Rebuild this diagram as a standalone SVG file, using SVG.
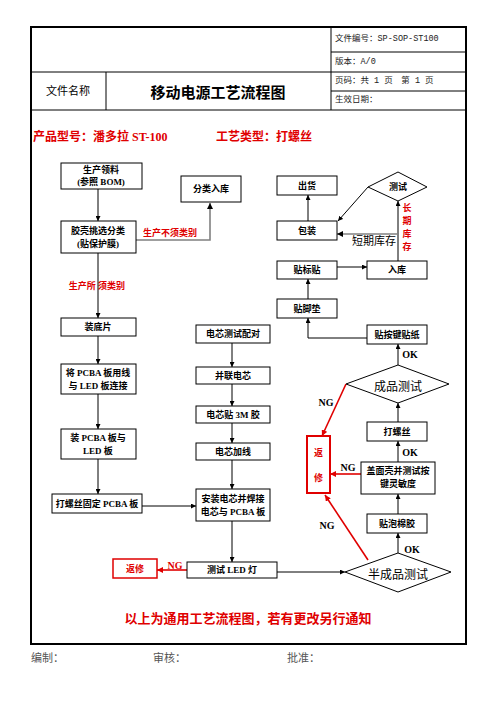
<svg xmlns="http://www.w3.org/2000/svg" width="496" height="702" viewBox="0 0 496 702">
<style>
.b{fill:#fff;stroke:#000;stroke-width:1}
.t{font-family:"Liberation Serif","Noto Sans CJK SC",serif;font-weight:bold;font-size:9px;fill:#000;text-anchor:middle;dominant-baseline:central}
.h{font-family:"Liberation Mono","Noto Sans CJK SC",monospace;font-size:8.5px;fill:#222;dominant-baseline:central}
.r{fill:#e00000}
.ln{fill:none;stroke:#000;stroke-width:1}
.gl{fill:none;stroke:#808080;stroke-width:1.6}
.rl{fill:none;stroke:#e00000;stroke-width:1.6}
.ng{font-family:"Liberation Serif","Noto Sans CJK SC",serif;font-weight:bold;font-size:10px;text-anchor:middle;dominant-baseline:central}
</style>
<defs>
<marker id="a" viewBox="0 0 10 10" refX="10" refY="5" markerWidth="5" markerHeight="5" markerUnits="userSpaceOnUse" orient="auto"><path d="M0,0L10,5L0,10z" fill="#000"/></marker>
<marker id="ar" viewBox="0 0 10 10" refX="10" refY="5" markerWidth="6" markerHeight="6" markerUnits="userSpaceOnUse" orient="auto"><path d="M0,0L10,5L0,10z" fill="#e00000"/></marker>
<marker id="ag" viewBox="0 0 10 10" refX="10" refY="5" markerWidth="6" markerHeight="6" markerUnits="userSpaceOnUse" orient="auto"><path d="M0,0L10,5L0,10z" fill="#000"/></marker>
</defs>
<rect width="496" height="702" fill="#fff"/>
<g id="frame">
<rect x="31" y="27" width="435" height="617" fill="none" stroke="#000" stroke-width="2"/>
<line x1="331" y1="52" x2="466" y2="52" stroke="#000"/>
<line x1="31" y1="72" x2="466" y2="72" stroke="#000"/>
<line x1="331" y1="91" x2="466" y2="91" stroke="#000"/>
<line x1="31" y1="110" x2="466" y2="110" stroke="#000"/>
<line x1="106" y1="72" x2="106" y2="110" stroke="#000"/>
<line x1="331" y1="27" x2="331" y2="110" stroke="#000"/>
<text class="h" x="335" y="39">文件编号：SP-SOP-ST100</text>
<text class="h" x="335" y="62">版本：A/0</text>
<text class="h" x="335" y="81">页码：共 1 页　第 1 页</text>
<text class="h" x="335" y="100">生效日期：</text>
<text x="68" y="91" font-family="Liberation Serif,Noto Sans CJK SC,serif" font-size="11" text-anchor="middle" dominant-baseline="central">文件名称</text>
<text x="218" y="91" font-family="Noto Sans CJK SC,sans-serif" font-weight="bold" font-size="15" text-anchor="middle" dominant-baseline="central">移动电源工艺流程图</text>
<text x="33" y="137" class="r" font-family="Liberation Serif,Noto Sans CJK SC,serif" font-weight="bold" font-size="12" dominant-baseline="central">产品型号：潘多拉 ST-100</text>
<text x="216" y="137" class="r" font-family="Liberation Serif,Noto Sans CJK SC,serif" font-weight="bold" font-size="12" dominant-baseline="central">工艺类型：打螺丝</text>
<text x="248" y="618" class="r" font-family="Liberation Serif,Noto Sans CJK SC,serif" font-weight="bold" font-size="13" text-anchor="middle" dominant-baseline="central">以上为通用工艺流程图，若有更改另行通知</text>
<g font-family="Liberation Serif,Noto Sans CJK SC,serif" font-size="11" fill="#555" dominant-baseline="central">
<text x="31" y="658">编制：</text>
<text x="153" y="658">审核：</text>
<text x="287" y="658">批准：</text>
</g>
</g>
<g id="connectors">
<path class="ln" d="M98,189V221" marker-end="url(#a)"/>
<path class="ln" d="M98,253V318" marker-end="url(#a)"/>
<path class="ln" d="M98,336V364" marker-end="url(#a)"/>
<path class="ln" d="M98,394V429" marker-end="url(#a)"/>
<path class="ln" d="M98,459V494" marker-end="url(#a)"/>
<path class="ln" d="M142,506H196" marker-end="url(#a)"/>
<path class="gl" d="M136,240H210V203" marker-end="url(#ag)"/>
<path class="ln" d="M232,343V367" marker-end="url(#a)"/>
<path class="ln" d="M232,384V406" marker-end="url(#a)"/>
<path class="ln" d="M232,423V443" marker-end="url(#a)"/>
<path class="ln" d="M232,460V489" marker-end="url(#a)"/>
<path class="ln" d="M232,521V562" marker-end="url(#a)"/>
<path class="rl" d="M187,570H157" marker-end="url(#ar)"/>
<path class="ln" d="M277,572H345" marker-end="url(#a)"/>
<path class="ln" d="M398,553V533" marker-end="url(#a)"/>
<path class="ln" d="M398,514V494" marker-end="url(#a)"/>
<path class="ln" d="M398,462V441" marker-end="url(#a)"/>
<path class="ln" d="M398,422V403" marker-end="url(#a)"/>
<path class="ln" d="M398,365V344" marker-end="url(#a)"/>
<path class="ln" d="M367,338H308V318" marker-end="url(#a)"/>
<path class="ln" d="M308,299V279" marker-end="url(#a)"/>
<path class="ln" d="M337,267H367" marker-end="url(#a)"/>
<path class="ln" d="M398,261V201" marker-end="url(#a)"/>
<path class="gl" d="M398,234H337" marker-end="url(#ag)"/>
<path class="ln" d="M368,187L338,221" marker-end="url(#a)"/>
<path class="ln" d="M308,221V195" marker-end="url(#a)"/>
<path class="rl" d="M346,384L322,436" marker-end="url(#ar)"/>
<path class="rl" d="M361,474H330" marker-end="url(#ar)"/>
<path class="rl" d="M368,560L325,495" marker-end="url(#ar)"/>
<text class="t r" x="170" y="233">生产不须类别</text>
<text class="t r" x="97" y="286">生产所 须类别</text>
<text x="352" y="241" font-family="Liberation Serif,Noto Sans CJK SC,serif" font-size="11" dominant-baseline="central">短期库存</text>
<g class="t r" font-size="10">
<text x="407" y="208" class="t r">长</text>
<text x="407" y="221" class="t r">期</text>
<text x="407" y="234" class="t r">库</text>
<text x="407" y="247" class="t r">存</text>
</g>
<text class="ng" x="326" y="402">NG</text>
<text class="ng" x="348" y="467">NG</text>
<text class="ng" x="327" y="525">NG</text>
<text class="ng r" x="175" y="565">NG</text>
<text class="ng" x="410" y="354">OK</text>
<text class="ng" x="410" y="452">OK</text>
<text class="ng" x="412" y="549">OK</text>
</g>
<g id="n1"><rect class="b" x="61" y="163" width="81" height="26"/><text class="t" x="101" y="170">生产领料</text><text class="t" x="101" y="182">(参照 BOM)</text></g>
<g id="n2"><rect class="b" x="181" y="176" width="60" height="26"/><text class="t" x="211" y="189">分类入库</text></g>
<g id="n3"><rect class="b" x="61" y="221" width="75" height="32"/><text class="t" x="98" y="231">胶壳挑选分类</text><text class="t" x="98" y="244">(贴保护膜)</text></g>
<g id="n4"><rect class="b" x="61" y="318" width="75" height="18"/><text class="t" x="98" y="327">装底片</text></g>
<g id="n5"><rect class="b" x="61" y="364" width="75" height="30"/><text class="t" x="98" y="373">将 PCBA 板用线</text><text class="t" x="98" y="386">与 LED 板连接</text></g>
<g id="n6"><rect class="b" x="61" y="429" width="75" height="30"/><text class="t" x="98" y="438">装 PCBA 板与</text><text class="t" x="98" y="451">LED 板</text></g>
<g id="n7"><rect class="b" x="52" y="494" width="90" height="19"/><text class="t" x="97" y="503.5">打螺丝固定 PCBA 板</text></g>
<g id="n8"><rect class="b" x="196" y="325" width="74" height="18"/><text class="t" x="233" y="334">电芯测试配对</text></g>
<g id="n9"><rect class="b" x="196" y="367" width="74" height="17"/><text class="t" x="233" y="375.5">并联电芯</text></g>
<g id="n10"><rect class="b" x="196" y="406" width="74" height="17"/><text class="t" x="233" y="414.5">电芯贴 3M 胶</text></g>
<g id="n11"><rect class="b" x="196" y="443" width="74" height="17"/><text class="t" x="233" y="451.5">电芯加线</text></g>
<g id="n12"><rect class="b" x="196" y="489" width="74" height="32"/><text class="t" x="233" y="499">安装电芯并焊接</text><text class="t" x="233" y="512">电芯与 PCBA 板</text></g>
<g id="n13"><rect class="b" x="187" y="562" width="90" height="16"/><text class="t" x="232" y="570">测试 LED 灯</text></g>
<g id="n14"><rect x="113" y="559" width="44" height="19" fill="#fff" stroke="#e00000" stroke-width="1.5"/><text class="t r" x="135" y="568.5">返修</text></g>
<g id="n15"><path d="M345,572L398,553L451,572L398,592Z" class="b"/><text x="398" y="573" font-family="Noto Sans CJK SC,sans-serif" font-size="12" text-anchor="middle" dominant-baseline="central">半成品测试</text></g>
<g id="n16"><rect class="b" x="367" y="514" width="60" height="19"/><text class="t" x="397" y="523.5">贴泡棉胶</text></g>
<g id="n17"><rect class="b" x="361" y="462" width="74" height="32"/><text class="t" x="398" y="471">盖面壳并测试按</text><text class="t" x="398" y="484">键灵敏度</text></g>
<g id="n18"><rect class="b" x="367" y="422" width="60" height="19"/><text class="t" x="397" y="431.5">打螺丝</text></g>
<g id="n19"><path d="M346,384L398,365L449,384L398,403Z" class="b"/><text x="398" y="385" font-family="Noto Sans CJK SC,sans-serif" font-size="12" text-anchor="middle" dominant-baseline="central">成品测试</text></g>
<g id="n20"><rect x="307" y="436" width="23" height="57" fill="#fff" stroke="#e00000" stroke-width="2"/><text class="t r" x="318.5" y="453" font-size="11">返</text><text class="t r" x="318.5" y="478" font-size="11">修</text></g>
<g id="n21"><rect class="b" x="367" y="325" width="60" height="19"/><text class="t" x="397" y="334.5">贴按键贴纸</text></g>
<g id="n22"><rect class="b" x="277" y="299" width="60" height="19"/><text class="t" x="307" y="308.5">贴脚垫</text></g>
<g id="n23"><rect class="b" x="277" y="261" width="60" height="18"/><text class="t" x="307" y="270">贴标贴</text></g>
<g id="n24"><rect class="b" x="367" y="261" width="60" height="18"/><text class="t" x="397" y="270">入库</text></g>
<g id="n25"><rect class="b" x="277" y="221" width="60" height="19"/><text class="t" x="307" y="230.5">包装</text></g>
<g id="n26"><rect class="b" x="277" y="176" width="60" height="19"/><text class="t" x="307" y="185.5">出货</text></g>
<g id="n27"><path d="M368,187L398,172L427,187L398,201Z" class="b"/><text class="t" x="398" y="187">测试</text></g>
</svg>
